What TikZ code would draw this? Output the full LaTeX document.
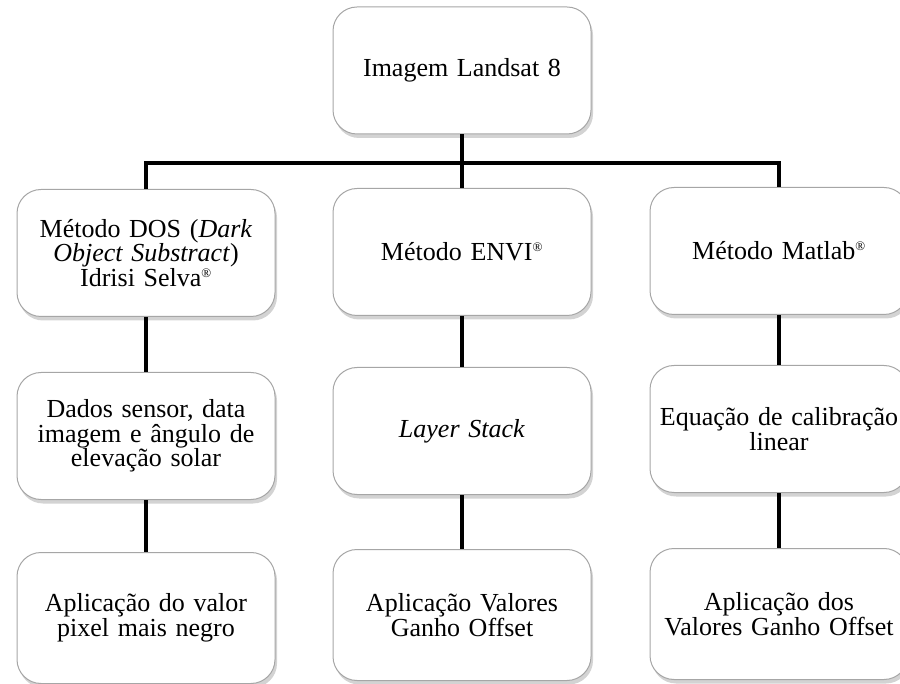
\documentclass[tikz,border=0pt]{standalone}
\usepackage{fontspec}
\setmainfont{Liberation Serif}
\usetikzlibrary{shadows,calc}
\newcommand{\regmark}{\textsuperscript{\fontsize{13}{13}\selectfont ®}}
\newcommand{\boxfont}{\fontsize{26}{24.5}\selectfont\spaceskip=0.17em plus 0.05em\relax}

\begin{document}
\begin{tikzpicture}[
    x=1pt, y=-1pt,
    box/.style={rectangle, rounded corners=24pt, draw=gray!70, line width=1pt,
                fill=white, align=center, text width=248pt, inner sep=5pt,
                minimum height=127pt, font=\boxfont,
                drop shadow={opacity=0.35, shadow xshift=2pt, shadow yshift=-4pt}},
    lastbox/.style={box, minimum height=131pt},
    link/.style={draw=black, line width=4.5pt},
  ]
    \useasboundingbox (0,0) rectangle (900,684);

    \node[box]     (top) at (462,70.5) {Imagem Landsat 8};

    % coluna DOS
    \node[box]     (dos1) at (146,253) {Método DOS (\textit{Dark}\\\textit{Object Substract})\\Idrisi Selva\regmark};
    \node[box]     (dos2) at (146,436) {Dados sensor, data\\imagem e ângulo de\\elevação solar};
    \node[lastbox] (dos3) at (146,618) {Aplicação do valor\\pixel mais negro};

    % coluna ENVI
    \node[box]     (envi1) at (462,252) {Método ENVI\regmark};
    \node[box]     (envi2) at (462,431) {\textit{Layer Stack}};
    \node[lastbox] (envi3) at (462,615) {Aplicação Valores\\Ganho Offset};

    % coluna Matlab
    \node[box]     (mat1) at (779,251) {Método Matlab\regmark};
    \node[box]     (mat2) at (779,429) {Equação de calibração\\linear};
    \node[lastbox] (mat3) at (779,614) {Aplicação dos\\Valores Ganho Offset};

    \coordinate (hub) at (462,163);

    \draw[link] (top) -- (hub);
    \draw[link] (dos1.north) |- (hub) -| (mat1.north);
    \draw[link] (hub) -- (envi1);

    \draw[link] (dos1) -- (dos2);
    \draw[link] (dos2) -- (dos3);
    \draw[link] (envi1) -- (envi2);
    \draw[link] (envi2) -- (envi3);
    \draw[link] (mat1) -- (mat2);
    \draw[link] (mat2) -- (mat3);
  \end{tikzpicture}
\end{document}
